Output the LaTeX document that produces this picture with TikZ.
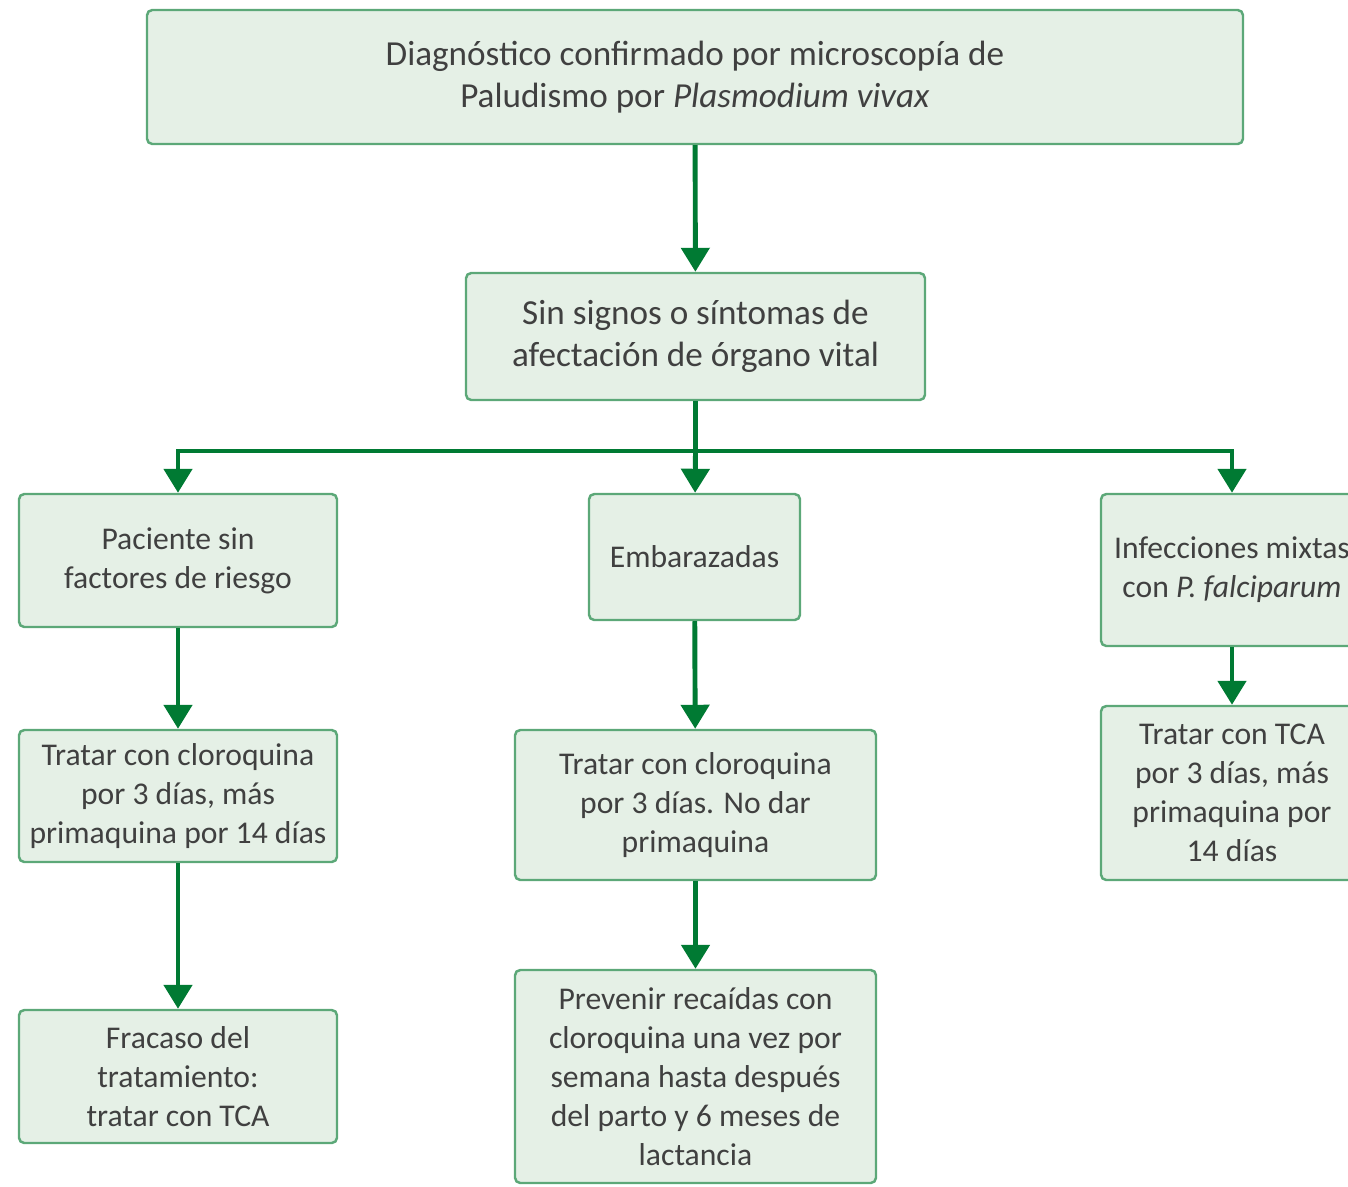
\documentclass[tikz,border=0pt]{standalone}
\usepackage{fontspec}
\setmainfont{Carlito}
\usetikzlibrary{arrows.meta}

\definecolor{boxfill}{HTML}{E5F0E6}
\definecolor{boxline}{HTML}{5CA878}
\definecolor{flowgreen}{HTML}{007A33}
\definecolor{textgray}{HTML}{404040}

\begin{document}
\begin{tikzpicture}[
        box/.style={draw=boxline, fill=boxfill, line width=0.7pt, rounded corners=1.5pt,
            text=textgray, align=center, inner sep=0pt, font=\fontsize{9}{11.1}\selectfont},
        bigbox/.style={box, font=\fontsize{10}{11.8}\selectfont},
        flow/.style={draw=flowgreen, line width=1.4pt, -{Triangle[width=2.8mm,length=2.4mm]}}
    ]

        \useasboundingbox (0,0) rectangle (13.48,-11.86);

        % Diagnosis
        \node[bigbox, minimum width=10.96cm, minimum height=1.34cm] (diag) at (6.95,-0.77)
            {Diagnóstico confirmado por microscopía de\\Paludismo por \textit{Plasmodium vivax}};
        \node[bigbox, minimum width=4.59cm, minimum height=1.27cm] (sinsignos) at (6.955,-3.365)
            {Sin signos o síntomas de\\afectación de órgano vital};

        % Patient groups
        \node[box, minimum width=3.18cm, minimum height=1.33cm] (paciente)   at ( 1.78,-5.605)
            {Paciente sin\\factores de riesgo};
        \node[box, minimum width=2.11cm, minimum height=1.26cm] (embarazada) at (6.945,-5.57)
            {Embarazadas};
        \node[box, minimum width=2.62cm, minimum height=1.52cm] (mixtas)     at (12.32,-5.70)
            {Infecciones mixtas\\con \textit{P. falciparum}};

        % Treatments
        \node[box, minimum width=3.18cm, minimum height=1.32cm] (tratarpac) at ( 1.78,-7.96)
            {Tratar con cloroquina\\por 3 días, más\\primaquina por 14 días};
        \node[box, minimum width=3.61cm, minimum height=1.50cm] (trataremb) at (6.955,-8.05)
            {Tratar con cloroquina\\por 3 días. No dar\\primaquina};
        \node[box, minimum width=2.62cm, minimum height=1.74cm] (tratarmix) at (12.32,-7.93)
            {Tratar con TCA\\por 3 días, más\\primaquina por\\14 días};

        % Follow-up
        \node[box, minimum width=3.18cm, minimum height=1.33cm] (fracaso)  at ( 1.78,-10.765)
            {Fracaso del\\tratamiento:\\tratar con TCA};
        \node[box, minimum width=3.61cm, minimum height=2.13cm] (prevenir) at (6.955,-10.765)
            {Prevenir recaídas con\\cloroquina una vez por\\semana hasta después\\del parto y 6 meses de\\lactancia};

        % Connectors
        \coordinate (split) at (6.955,-4.51);
        \draw[flow] (diag) -- (sinsignos);
        \draw[flow] (sinsignos) -- (split) -| (paciente.north);
        \draw[flow] (split) -- (embarazada);
        \draw[flow] (split) -| (mixtas.north);

        \draw[flow] (paciente)   -- (tratarpac);
        \draw[flow] (embarazada) -- (trataremb);
        \draw[flow] (mixtas)     -- (tratarmix);
        \draw[flow] (tratarpac)  -- (fracaso);
        \draw[flow] (trataremb)  -- (prevenir);

    \end{tikzpicture}
\end{document}
